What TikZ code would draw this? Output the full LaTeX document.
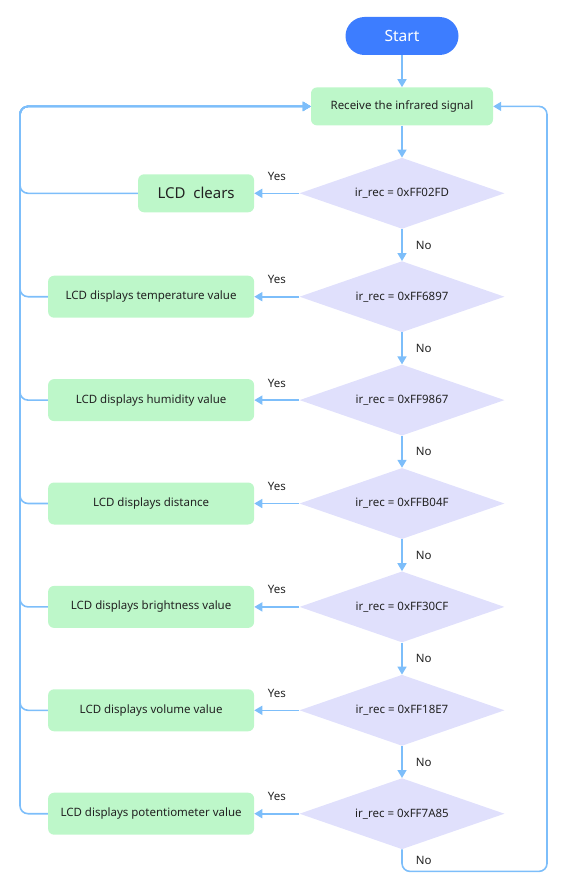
\documentclass[tikz,border=0pt]{standalone}
\usepackage{fontspec}
\setmainfont{Noto Sans}
\usepackage{xcolor}
\usetikzlibrary{arrows.meta,positioning,shapes.geometric}
\definecolor{flowline}{RGB}{125,190,250}
\definecolor{actfill}{RGB}{189,247,201}
\definecolor{decfill}{RGB}{224,224,252}
\definecolor{startfill}{RGB}{61,125,255}
\definecolor{txt}{RGB}{34,34,34}

\begin{document}
\begin{tikzpicture}[x=1pt,y=1pt,node distance=32pt,>={Triangle[length=8pt,width=9pt]},font=\fontsize{11.5}{13}\selectfont,text=txt]
  \tikzstyle{term}=[fill=startfill,text=white,rounded corners=19pt,minimum width=113pt,minimum height=38pt,font=\fontsize{15.5}{17}\selectfont\bfseries]
  \tikzstyle{act}=[fill=actfill,rounded corners=6pt,align=center,minimum width=206pt,minimum height=42pt,inner sep=2pt]
  \tikzstyle{dec}=[diamond,fill=decfill,aspect=2.9,minimum width=205pt,minimum height=71pt,inner sep=0pt]
  \tikzstyle{conn}=[->,flowline,line width=1.6pt,rounded corners=8pt]
  \tikzstyle{lbl}=[text=txt,inner sep=1pt]
  \useasboundingbox (0,0) rectangle (567,-891);
  \node[term] (start) at (402,-36) {Start};
  \node[act,minimum width=182pt,minimum height=38pt,below=of start] (recv) {Receive the infrared signal};
  \foreach \i/\code/\prev in {1/FF02FD/recv,2/FF6897/d1,3/FF9867/d2,4/FFB04F/d3,5/FF30CF/d4,6/FF18E7/d5,7/FF7A85/d6}
    \node[dec,below=of \prev] (d\i) {ir\_rec = 0x\code};
  \node[act,minimum width=116pt,minimum height=38pt,font=\fontsize{15}{17}\selectfont,left=45pt of d1] (b1) {LCD\ \ clears};
  \foreach \i/\txt in {2/temperature value,3/humidity value,4/distance,5/brightness value,6/volume value,7/potentiometer value}
    \node[act,left=45pt of d\i] (b\i) {LCD displays \txt};
  \coordinate (lft) at (20,0);
  \coordinate (rgt) at (547,0);
  % main line
  \draw[conn] (start) -- (recv);
  \draw[conn] (recv) -- (d1);
  \foreach \i [count=\j from 2] in {1,...,6}
    \draw[conn] (d\i) -- node[lbl,right=12pt] {No} (d\j);
  % yes branches and return to the receiver
  \foreach \i in {1,...,7}{
    \draw[conn] (d\i.west) -- node[lbl,above=11pt] {Yes} (b\i.east);
    \draw[conn] (b\i.west) -| (lft |- recv) -- (recv.west);
  }
  \draw[conn] (d7.south) -- node[lbl,right=12pt] {No} ++(0,-22) -| (rgt |- recv) -- (recv.east);
\end{tikzpicture}
\end{document}
